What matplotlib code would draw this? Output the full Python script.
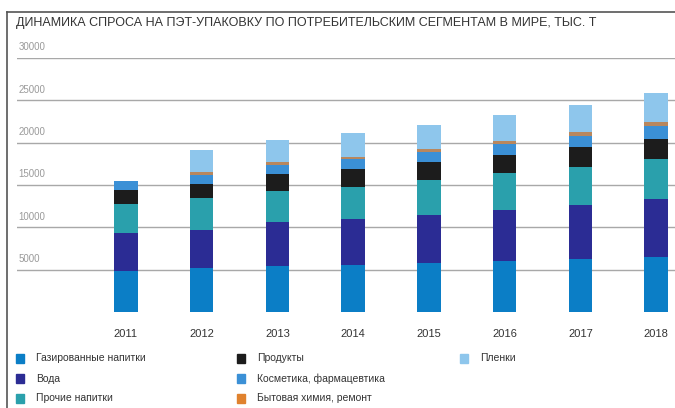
import matplotlib
matplotlib.use("Agg")
import matplotlib.pyplot as plt
from matplotlib.patches import Rectangle
from matplotlib.lines import Line2D
import numpy as np

plt.rcParams['font.family'] = ['Liberation Sans', 'DejaVu Sans']

years = ['2011', '2012', '2013', '2014', '2015', '2016', '2017', '2018']

# тыс. т по сегментам (снизу вверх)
gaz = [4900, 5230, 5430, 5580, 5850, 6010, 6250, 6550]
voda = [4450, 4420, 5150, 5465, 5660, 6090, 6430, 6830]
prochie = [3400, 3800, 3680, 3775, 4050, 4330, 4480, 4680]
produkty = [1670, 1670, 2050, 2030, 2110, 2170, 2340, 2420]
kosmetika = [1050, 1090, 1050, 1210, 1250, 1220, 1290, 1480]
himiya = [0, 310, 350, 270, 310, 390, 470, 470]
plenki = [0, 2600, 2640, 2810, 2880, 3070, 3240, 3430]

series = [gaz, voda, prochie, produkty, kosmetika, himiya, plenki]
names = ['Газированные напитки', 'Вода', 'Прочие напитки', 'Продукты',
         'Косметика, фармацевтика', 'Бытовая химия, ремонт', 'Пленки']
colors = ['#0b7ec6', '#2b2c94', '#2aa0ac', '#1c1c1c', '#3b90d6', '#b8875e', '#8ec6ec']
legend_colors = ['#0b7ec6', '#2b2c94', '#2aa0ac', '#1c1c1c', '#3b90d6', '#e0822e', '#8ec6ec']

yticks = [5000, 10000, 15000, 20000, 25000, 30000]

fig = plt.figure(figsize=(6.75, 4.08), dpi=100)
ax = fig.add_axes([0.025, 0.235, 0.975, 0.623])

x = np.arange(len(years))
bottom = np.zeros(len(years))
for vals, c in zip(series, colors):
    ax.bar(x, vals, width=0.31, bottom=bottom, color=c, zorder=3)
    bottom += np.array(vals)

for v in yticks:
    ax.axhline(v, color='#a8a8a8', lw=1.0, zorder=1)
    ax.text(-1.42, v + 900, str(v), fontsize=7, color='#9a9a9a', va='baseline', ha='left')

ax.set_xlim(-1.44, 7.25)
ax.set_ylim(0, 30000)
ax.set_yticks([])
ax.set_xticks(x)
ax.set_xticklabels(years, fontsize=8, color='#333333')
ax.tick_params(axis='x', length=0, pad=12)
for s in ax.spines.values():
    s.set_visible(False)

# рамка
fig.add_artist(Line2D([0.0104, 0.0104], [0, 0.971], color='#555555', lw=1.2))
fig.add_artist(Line2D([0.0104, 1.0], [0.971, 0.971], color='#555555', lw=1.2))

fig.text(0.024, 0.958, 'ДИНАМИКА СПРОСА НА ПЭТ-УПАКОВКУ ПО ПОТРЕБИТЕЛЬСКИМ СЕГМЕНТАМ В МИРЕ, ТЫС. Т',
         fontsize=9, color='#333333', va='top', ha='left')

# легенда в три колонки
col_x = [0.024, 0.351, 0.681]
row_y = [0.122, 0.072, 0.024]
for i, (n, c) in enumerate(zip(names, legend_colors)):
    cx = col_x[i // 3]
    ry = row_y[i % 3]
    fig.add_artist(Rectangle((cx, ry - 0.011), 0.012, 0.022, color=c, transform=fig.transFigure))
    fig.text(cx + 0.03, ry, n, fontsize=7.5, color='#333333', va='center', ha='left')

fig.savefig('out.png', dpi=100)
